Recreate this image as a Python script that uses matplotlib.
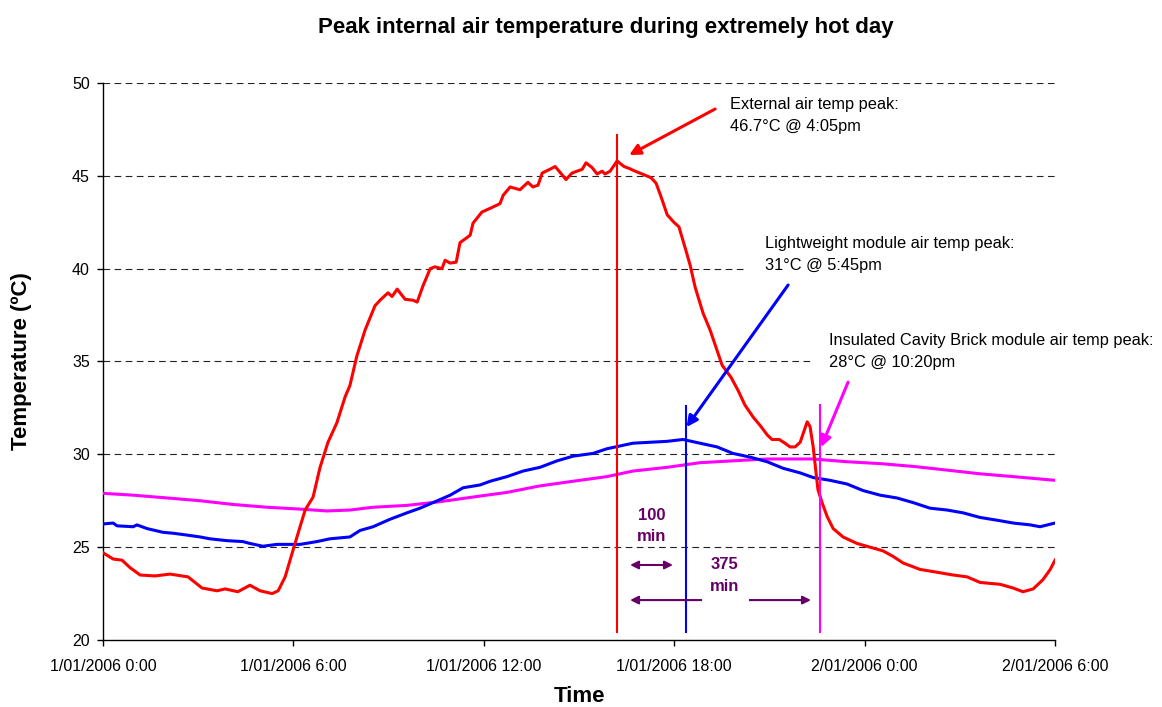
import matplotlib
matplotlib.use("Agg")
import matplotlib.pyplot as plt
from matplotlib.patches import Rectangle

plt.rcParams['font.family'] = ['Liberation Sans', 'DejaVu Sans']

# ---------------- data ----------------
tick_hours = [0, 6, 12, 18, 24, 30]
tick_labels = ["1/01/2006 0:00", "1/01/2006 6:00", "1/01/2006 12:00",
               "1/01/2006 18:00", "2/01/2006 0:00", "2/01/2006 6:00"]

ext_hours = [0.0, 0.32, 0.60, 0.85, 1.17, 1.64, 2.11, 2.68, 3.12, 3.59, 3.85, 4.25,
             4.63, 4.95, 5.33, 5.52, 5.74, 5.99, 6.21, 6.37, 6.62, 6.84, 7.09, 7.37,
             7.63, 7.78, 8.00, 8.26, 8.57, 8.73, 8.98, 9.11, 9.27, 9.52, 9.77, 9.90,
             10.09, 10.31, 10.46, 10.68, 10.78, 10.94, 11.13, 11.25, 11.57, 11.66,
             11.94, 12.20, 12.51, 12.61, 12.83, 13.14, 13.39, 13.55, 13.71, 13.84,
             14.02, 14.25, 14.47, 14.59, 14.78, 14.94, 15.10, 15.22, 15.41, 15.57,
             15.73, 15.82, 15.98, 16.20, 16.42, 16.58, 16.77, 16.99, 17.27, 17.43,
             17.59, 17.78, 17.99, 18.15, 18.34, 18.50, 18.66, 18.91, 19.13, 19.35,
             19.51, 19.79, 20.01, 20.23, 20.49, 20.71, 20.93, 21.08, 21.31, 21.49,
             21.65, 21.81, 21.97, 22.19, 22.28, 22.38, 22.47, 22.53, 22.66, 22.82,
             23.01, 23.32, 23.76, 24.17, 24.58, 24.90, 25.21, 25.75, 26.28, 26.79,
             27.23, 27.64, 27.95, 28.27, 28.68, 28.99, 29.31, 29.62, 29.85, 30.0]
ext_temp = [24.7, 24.36, 24.3, 23.9, 23.5, 23.45, 23.55, 23.4, 22.8, 22.65, 22.75, 22.6,
            22.95, 22.65, 22.5, 22.65, 23.4, 24.85, 26.1, 27.0, 27.7, 29.3, 30.65, 31.7,
            33.1, 33.7, 35.3, 36.7, 38.0, 38.3, 38.7, 38.5, 38.9, 38.35, 38.3, 38.2,
            39.1, 40.0, 40.1, 40.0, 40.45, 40.3, 40.35, 41.4, 41.8, 42.45,
            43.05, 43.25, 43.5, 43.95, 44.4, 44.25, 44.65, 44.4, 44.5, 45.15,
            45.3, 45.5, 45.05, 44.8, 45.15, 45.25, 45.35, 45.7, 45.45, 45.1,
            45.25, 45.1, 45.25, 45.8, 45.5, 45.4, 45.25, 45.1, 44.9, 44.6,
            43.85, 42.9, 42.5, 42.25, 41.15, 40.2, 39.0, 37.6, 36.7, 35.6,
            34.8, 34.15, 33.45, 32.65, 32.0, 31.55, 31.05, 30.8, 30.8, 30.6,
            30.4, 30.4, 30.65, 31.75, 31.5, 30.4, 29.0, 28.1, 27.4, 26.65,
            26.0, 25.55, 25.2, 25.0, 24.8, 24.5, 24.15, 23.8, 23.65, 23.5,
            23.4, 23.1, 23.05, 23.0, 22.8, 22.6, 22.75, 23.25, 23.8, 24.3]

lw_hours = [0.0, 0.32, 0.44, 0.95, 1.07, 1.39, 1.89, 2.21, 2.65, 3.06, 3.37, 3.91,
            4.41, 4.63, 5.04, 5.48, 6.21, 6.74, 7.15, 7.78, 8.10, 8.51, 9.04, 9.58,
            9.99, 10.40, 10.94, 11.35, 11.88, 12.20, 12.73, 13.24, 13.77, 14.31,
            14.81, 15.44, 15.88, 16.29, 16.70, 17.24, 17.78, 18.28, 18.81, 19.35,
            19.85, 20.39, 20.93, 21.43, 21.97, 22.38, 22.91, 23.45, 23.95, 24.49,
            25.02, 25.53, 26.06, 26.60, 27.10, 27.64, 28.18, 28.68, 29.22, 29.53, 30.0]
lw_temp = [26.25, 26.3, 26.15, 26.1, 26.2, 26.0, 25.8, 25.75, 25.65, 25.55, 25.45, 25.35,
           25.3, 25.2, 25.05, 25.15, 25.15, 25.3, 25.45, 25.55, 25.9, 26.1, 26.5, 26.85,
           27.1, 27.4, 27.8, 28.2, 28.35, 28.55, 28.8, 29.1, 29.3, 29.65,
           29.9, 30.05, 30.3, 30.45, 30.6, 30.65, 30.7, 30.8, 30.6, 30.4,
           30.05, 29.85, 29.6, 29.25, 29.0, 28.75, 28.6, 28.4, 28.05, 27.8,
           27.65, 27.4, 27.1, 27.0, 26.85, 26.6, 26.45, 26.3, 26.2, 26.1, 26.3]

icb_hours = [0.0, 0.95, 2.02, 3.06, 4.10, 5.17, 6.21, 7.06, 7.78, 8.51, 9.58, 10.62,
             11.66, 12.73, 13.77, 14.81, 15.88, 16.70, 17.78, 18.81, 19.85, 20.93,
             21.97, 22.38, 23.45, 24.49, 25.53, 26.60, 27.64, 28.68, 30.0]
icb_temp = [27.9, 27.8, 27.65, 27.5, 27.3, 27.15, 27.05, 26.95, 27.0, 27.15, 27.25, 27.45,
            27.7, 27.95, 28.3, 28.55, 28.8, 29.1, 29.3, 29.55, 29.65, 29.75,
            29.75, 29.75, 29.6, 29.5, 29.35, 29.15, 28.95, 28.8, 28.6]

ext_peak_h = 16.20
lw_peak_h = 18.37
icb_peak_h = 22.61

RED = "#FF0000"
BLUE = "#0000FF"
MAG = "#FF00FF"
PURPLE = "#660066"

fig = plt.figure(figsize=(11.62, 7.07), dpi=100)
ax = fig.add_axes([103/1162, 1 - 640/707, (1055-103)/1162, (640-83)/707])

ax.set_xlim(0, 30)
ax.set_ylim(20, 50)

for y in range(25, 51, 5):
    ax.axhline(y, color="#222222", lw=0.8, dashes=(6, 4), zorder=0)

# white boxes behind annotation texts (hide grid like the original text boxes)
ax.add_patch(Rectangle((20.23, 39.28), 9.77, 2.91, facecolor="white", edgecolor="none",
                       zorder=1))
ax.add_patch(Rectangle((22.34, 34.27), 7.66, 2.53, facecolor="white", edgecolor="none",
                       zorder=1))

ax.plot(icb_hours, icb_temp, color=MAG, lw=2.2, zorder=3)
ax.plot(lw_hours, lw_temp, color=BLUE, lw=2.2, zorder=3)
ax.plot(ext_hours, ext_temp, color=RED, lw=2.2, zorder=4)

# peak verticals
ax.plot([ext_peak_h, ext_peak_h], [20.43, 47.19], color=RED, lw=1.5, zorder=5)
ax.plot([lw_peak_h, lw_peak_h], [20.43, 32.6], color=BLUE, lw=1.5, zorder=5)
ax.plot([icb_peak_h, icb_peak_h], [20.43, 32.65], color=MAG, lw=1.5, zorder=5)

# annotations
fs = 11.8
ax.text(19.76, 48.86, "External air temp peak:", fontsize=fs, va="center", ha="left")
ax.text(19.76, 47.68, "46.7°C @ 4:05pm", fontsize=fs, va="center", ha="left")
ax.annotate("", xy=(16.58, 46.12), xytext=(19.29, 48.6),
            arrowprops=dict(arrowstyle="-|>", color=RED, lw=2.2, mutation_scale=16,
                            shrinkA=0, shrinkB=0), zorder=6)

ax.text(20.86, 41.38, "Lightweight module air temp peak:", fontsize=fs, va="center", ha="left")
ax.text(20.86, 40.19, "31°C @ 5:45pm", fontsize=fs, va="center", ha="left")
ax.annotate("", xy=(18.39, 31.47), xytext=(21.59, 39.12),
            arrowprops=dict(arrowstyle="-|>", color=BLUE, lw=2.2, mutation_scale=16,
                            shrinkA=0, shrinkB=0), zorder=6)

ax.text(22.88, 36.15, "Insulated Cavity Brick module air temp peak:", fontsize=fs,
        va="center", ha="left", clip_on=False)
ax.text(22.88, 34.92, "28°C @ 10:20pm", fontsize=fs, va="center", ha="left")
ax.annotate("", xy=(22.63, 30.39), xytext=(23.48, 33.89),
            arrowprops=dict(arrowstyle="-|>", color=MAG, lw=2.2, mutation_scale=16,
                            shrinkA=0, shrinkB=0), zorder=6)

# lag arrows
ax.annotate("", xy=(17.96, 24.04), xytext=(16.61, 24.04),
            arrowprops=dict(arrowstyle="<|-|>", color=PURPLE, lw=1.5, mutation_scale=12,
                            shrinkA=0, shrinkB=0), zorder=6)
ax.annotate("", xy=(22.31, 22.15), xytext=(16.61, 22.15),
            arrowprops=dict(arrowstyle="<|-|>", color=PURPLE, lw=1.5, mutation_scale=12,
                            shrinkA=0, shrinkB=0), zorder=6)
ax.add_patch(Rectangle((18.88, 21.98), 1.48, 0.34, facecolor="white", edgecolor="none",
                       zorder=7))
pfs = 12
ax.text(17.30, 26.73, "100", fontsize=pfs, fontweight="bold", color=PURPLE,
        ha="center", va="center", zorder=8)
ax.text(17.30, 25.55, "min", fontsize=pfs, fontweight="bold", color=PURPLE,
        ha="center", va="center", zorder=8)
ax.text(19.60, 24.04, "375", fontsize=pfs, fontweight="bold", color=PURPLE,
        ha="center", va="center", zorder=8)
ax.text(19.60, 22.90, "min", fontsize=pfs, fontweight="bold", color=PURPLE,
        ha="center", va="center", zorder=8)

# axes styling
for s in ("top", "right"):
    ax.spines[s].set_visible(False)
ax.spines["left"].set_color("#000000")
ax.spines["bottom"].set_color("#000000")
ax.spines["left"].set_linewidth(1.0)
ax.spines["bottom"].set_linewidth(1.0)

ax.set_xticks(tick_hours)
ax.set_xticklabels(tick_labels, fontsize=11.5)
ax.set_yticks(range(20, 51, 5))
ax.set_yticklabels([str(v) for v in range(20, 51, 5)], fontsize=11.5)
ax.tick_params(axis="both", direction="out", length=4.5, width=1.0, color="#000000")
ax.tick_params(axis="x", pad=9)
ax.tick_params(axis="y", pad=5)

fig.text(22/1162, 1 - 361/707, "Temperature (ºC)", fontsize=16, fontweight="bold",
         rotation=90, ha="center", va="center")
fig.text(580/1162, 1 - 697/707, "Time", fontsize=16, fontweight="bold",
         ha="center", va="center")

fig.text(606/1162, 1 - 27/707, "Peak internal air temperature during extremely hot day",
         fontsize=16, fontweight="bold", ha="center", va="center")

fig.savefig("out.png", dpi=100)
